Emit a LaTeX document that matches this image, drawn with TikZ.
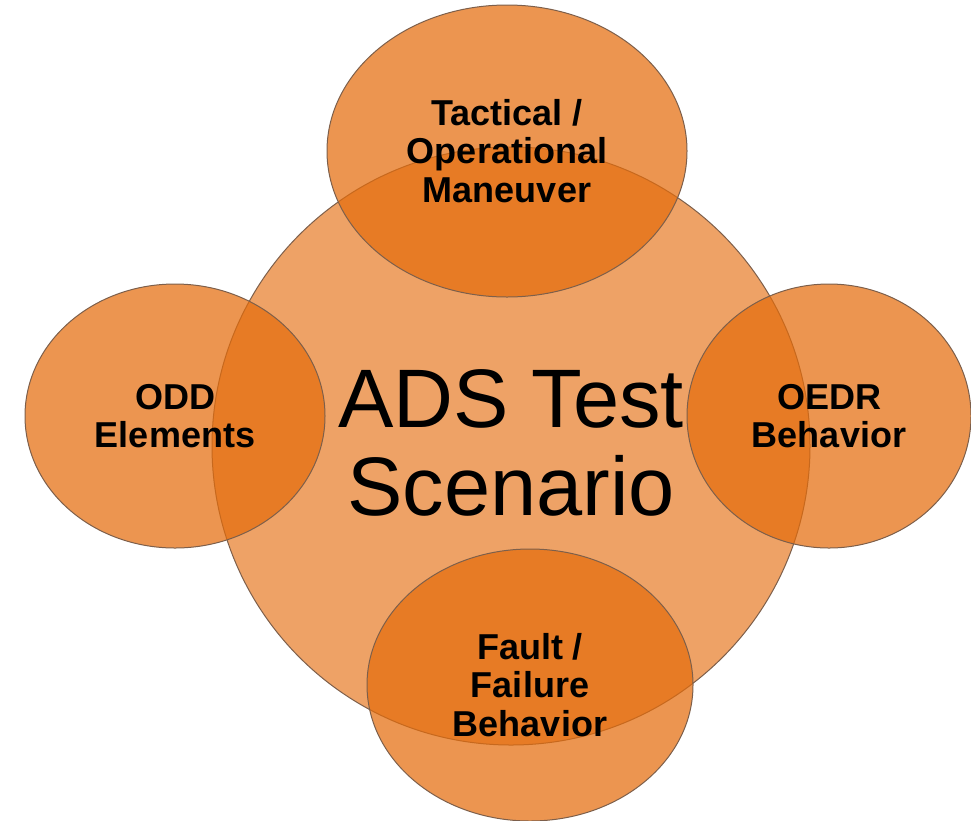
\documentclass[tikz,border=0pt]{standalone}
\usepackage{fontspec}
\setmainfont{Liberation Sans}
\usetikzlibrary{shapes.geometric}

\definecolor{bubble}{RGB}{228,108,12}
\definecolor{rim}{RGB}{125,95,75}

\tikzset{
  hub/.style={circle, draw=rim, line width=1pt, fill=bubble, fill opacity=0.63,
    text opacity=1, inner sep=0pt, outer sep=0pt, minimum size=598pt},
  petal/.style={ellipse, draw=rim, line width=1pt, fill=bubble, fill opacity=0.72,
    text opacity=1, inner sep=0pt, outer sep=0pt, align=center,
    font=\fontsize{36}{38.5}\selectfont\bfseries},
  hubtext/.style={align=center, inner sep=0pt, font=\fontsize{83}{88}\selectfont}
}

\begin{document}
\begin{tikzpicture}[x=1pt,y=-1pt]
  \useasboundingbox (0,0) rectangle (971,820);
  \clip (0,0) rectangle (971,820);

  % central scenario circle
  \node[hub] (hub) at (511,446) {};

  % surrounding elements
  \node[petal, minimum width=360pt, minimum height=292pt] (top) at (507,151)
    {Tactical /\\Operational\\Maneuver};
  \node[petal, minimum width=300pt, minimum height=264pt] (left) at (175,416)
    {ODD\\Elements};
  \node[petal, minimum width=284pt, minimum height=264pt] (right) at (829,416)
    {OEDR\\Behavior};
  \node[petal, minimum width=326pt, minimum height=272pt] (bottom) at (530,685)
    {Fault /\\Failure\\Behavior};

  % title of the central circle
  \node[hubtext] (title) at (511,443) {ADS Test\\Scenario};
\end{tikzpicture}
\end{document}
